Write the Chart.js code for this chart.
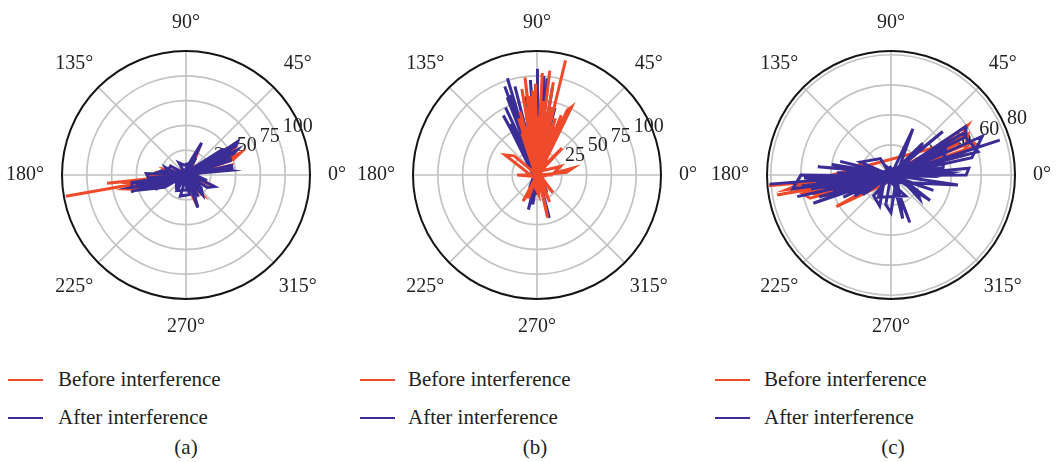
<!DOCTYPE html>
<html>
<head>
<meta charset="utf-8">
<script src="https://cdn.jsdelivr.net/npm/chart.js@4.4.1/dist/chart.umd.min.js"></script>
<style>
  html, body { margin: 0; padding: 0; background: #fff; }
  #wrap { position: relative; width: 1056px; height: 462px; overflow: hidden;
          font-family: 'Liberation Serif', 'Times New Roman', serif; color: #231f20; }
  .panel { position: absolute; top: 0; width: 376px; height: 350px; }
  .key { position: absolute; font-size: 21px; line-height: 24px; white-space: nowrap; }
  .swatch { position: absolute; height: 2px; width: 35px; }
  .cap { position: absolute; top: 435px; font-size: 21px; line-height: 24px; transform: translateX(-50%); }
</style>
</head>
<body>
<div id="wrap">
  <div class="panel" style="left:-2px"><canvas id="polarA" width="376" height="350"></canvas></div>
  <div class="panel" style="left:349px"><canvas id="polarB" width="376" height="350"></canvas></div>
  <div class="panel" style="left:703px"><canvas id="polarC" width="376" height="350"></canvas></div>
  <div id="keys"></div>
</div>
<script>
// Series labels and colours
const seriesNames = ['Before interference', 'After interference'];
const seriesColors = ['#ef4a2b', '#3a2e96'];

// Angular grid (degrees) and radial ticks
const angleTicks = [0, 45, 90, 135, 180, 225, 270, 315];
const radialTicksAB = [25, 50, 75, 100];
const radialTicksC = [20, 40, 60, 80];
const radialMaxAB = 125;
const radialMaxC = 82.5;

// (a) before interference: angle (deg), magnitude
const angleBeforeA = [190, 10, 186, 350, 192, 189, 20, 193, 195, 15, 188, 191, 30, 22, 18, 200, 28, 25, 190, 12, 8, 185, 182, 175, 0, 64, 240, 290, 150, 338, 120, 310, 165, 30, 200, 20, 196, 0];
const radiusBeforeA = [123, 3, 80, 3, 58, 50, 4, 62, 55, 3, 60, 52, 4, 59, 50, 5, 54, 48, 4, 46, 42, 4, 36, 30, 3, 33, 4, 34, 3, 30, 4, 25, 22, 3, 40, 4, 45, 0];
// (a) after interference
const angleAfterA = [197, 20, 33, 30, 200, 193, 188, 15, 26, 24, 195, 195, 190, 10, 22, 18, 200, 184, 178, 0, 12, 9, 190, 8, 6, 170, 176, 170, 350, 28, 35, 180, 64, 244, 60, 230, 160, 165, 340, 150, 205, 30, 210, 200, 20, 290, 110, 300, 120, 338, 330, 150, 320, 310, 130, 280, 255, 60, 240, 270, 80, 345, 25, 31, 25, 200, 75, 100, 120, 300, 220, 230, 0];
const radiusAfterA = [58, 5, 62, 58, 4, 56, 55, 4, 57, 52, 4, 45, 50, 3, 48, 47, 3, 38, 40, 4, 47, 47, 3, 40, 45, 3, 30, 25, 4, 50, 45, 4, 36, 4, 20, 3, 22, 20, 4, 18, 30, 3, 25, 42, 3, 35, 3, 25, 4, 31, 25, 3, 20, 26, 3, 20, 22, 3, 18, 15, 4, 22, 3, 40, 38, 3, 12, 10, 14, 3, 12, 15, 0];

// (b) before interference
const angleBeforeB = [76, 265, 83, 270, 87, 260, 97, 275, 100, 280, 93, 265, 80, 270, 91, 250, 95, 290, 85, 260, 78, 280, 72, 270, 63, 65, 250, 68, 285, 105, 300, 108, 280, 102, 290, 110, 270, 88, 260, 99, 275, 70, 82, 265, 11, 5, 190, 47, 230, 148, 140, 320, 180, 0, 242, 60, 284, 90, 312, 120, 260, 275, 80, 250, 70, 295, 100, 20, 0, 180, 0];
const radiusBeforeB = [119, 5, 106, 4, 103, 5, 99, 4, 88, 5, 85, 4, 95, 5, 92, 4, 80, 4, 75, 6, 70, 4, 60, 3, 77, 72, 4, 65, 5, 66, 4, 60, 3, 50, 5, 45, 4, 60, 3, 65, 5, 50, 55, 3, 37, 30, 3, 37, 4, 38, 30, 3, 20, 4, 30, 3, 44, 4, 24, 3, 12, 20, 3, 25, 4, 30, 3, 25, 15, 3, 0];
// (b) after interference
const angleAfterB = [107, 280, 89.5, 270, 80, 265, 86, 275, 94, 285, 104, 290, 111, 295, 115, 300, 119.5, 280, 98, 270, 84, 260, 75, 255, 120, 300, 110, 290, 100, 280, 92, 270, 256, 75, 262, 80, 286, 100, 270, 90, 300, 110, 240, 60, 117, 290, 108, 0];
const radiusAfterB = [102, 4, 107, 4, 90, 5, 100, 4, 96, 4, 92, 5, 84, 4, 75, 5, 69, 4, 80, 3, 98, 4, 70, 5, 50, 4, 95, 3, 60, 5, 70, 4, 36, 4, 30, 3, 45, 4, 20, 4, 20, 4, 15, 3, 58, 4, 85, 0];

// (c) before interference
const angleBeforeC = [185, 10, 190, 20, 33, 30, 200, 196, 192, 15, 19, 22, 195, 188, 182, 25, 25, 180, 158, 200, 350, 210, 28, 186, 10, 194, 198, 30, 15, 28, 200, 189, 0];
const radiusBeforeC = [81.5, 4, 77, 5, 61, 55, 6, 56, 60, 4, 61, 58, 5, 70, 50, 6, 50, 4, 22, 30, 6, 42, 45, 65, 4, 52, 45, 5, 50, 58, 4, 60, 0];
// (c) after interference
const angleAfterC = [184.3, 10, 17.8, 200, 193, 10, 173.5, 20, 33, 27, 190, 5, 0, 185, 187, 5, 178, 10, 64.6, 245, 351.5, 170, 340, 160, 157, 123, 300, 291.6, 110, 327, 150, 240, 305, 200, 195, 15, 205, 20, 190, 0, 175, 0, 45, 220, 23, 12, 195, 200, 215, 30, 285, 100, 210, 40, 40, 210, 30, 15, 190, 182, 5, 197, 10, 185, 0, 170, 350, 165, 0, 200, 20, 25, 8, 190, 180, 188, 5, 192, 15, 198, 20, 186, 5, 270, 260, 80, 320, 330, 150, 250, 230, 40, 2, 358, 180, 0];
const radiusAfterC = [81, 5, 76, 6, 64, 4, 49, 4, 59, 56, 5, 52, 50, 4, 60, 4, 36, 4, 34, 5, 45, 4, 30, 5, 22, 13, 4, 34, 5, 31, 4, 17, 17, 4, 40, 4, 35, 4, 54, 4, 30, 4, 30, 4, 66, 55, 5, 25, 22, 4, 30, 5, 28, 5, 45, 4, 55, 60, 5, 58, 4, 50, 4, 45, 4, 40, 5, 35, 4, 55, 5, 40, 35, 4, 60, 66, 4, 45, 4, 38, 4, 50, 4, 25, 20, 4, 25, 20, 4, 22, 18, 4, 40, 30, 4, 0];

// polar (deg, magnitude) -> cartesian data points for a linear x/y scatter
function toXY(angles, radii) {
  return angles.map((a, i) => {
    const t = a * Math.PI / 180;
    return { x: radii[i] * Math.cos(t), y: radii[i] * Math.sin(t) };
  });
}

// Draws rings, spokes, outer circle and the angle / magnitude labels
const polarGrid = {
  id: 'polarGrid',
  beforeDatasetsDraw(chart, args, opts) {
    const { ctx, scales: { x, y } } = chart;
    const cx = x.getPixelForValue(0), cy = y.getPixelForValue(0);
    const px = v => x.getPixelForValue(v) - cx;
    const R = px(opts.rMax);
    ctx.save();
    ctx.strokeStyle = '#c3c3c3';
    ctx.lineWidth = 1.7;
    opts.ticks.forEach(t => {
      ctx.beginPath(); ctx.arc(cx, cy, px(t), 0, Math.PI * 2); ctx.stroke();
    });
    angleTicks.forEach(a => {
      const t = a * Math.PI / 180;
      ctx.beginPath(); ctx.moveTo(cx, cy);
      ctx.lineTo(cx + R * Math.cos(t), cy - R * Math.sin(t)); ctx.stroke();
    });
    ctx.strokeStyle = '#151515';
    ctx.lineWidth = 2;
    ctx.beginPath(); ctx.arc(cx, cy, R, 0, Math.PI * 2); ctx.stroke();

    ctx.fillStyle = '#231f20';
    ctx.font = "20px 'Liberation Serif'";
    ctx.textBaseline = 'middle';
    ctx.textAlign = 'center';
    angleTicks.forEach(a => {
      const t = a * Math.PI / 180;
      const label = a + '°';
      let d;
      if (a === 0 || a === 180) d = R + 18 + ctx.measureText(label).width / 2;
      else if (a === 90 || a === 270) d = R + 28;
      else d = R + 34;
      ctx.fillText(label, cx + d * Math.cos(t), cy - d * Math.sin(t));
    });

    ctx.textAlign = 'left';
    ctx.textBaseline = 'alphabetic';
    const tr = 22.5 * Math.PI / 180;
    opts.ticks.forEach(v => {
      const r = px(v);
      ctx.fillText(String(v), cx + r * Math.cos(tr) + 5, cy - r * Math.sin(tr) - 5);
    });
    ctx.restore();
  }
};

function makePolar(id, before, after, ticks, rMax, beforeOnTop) {
  const halfW = 188, halfH = 175, outerPx = 124;
  const unit = rMax / outerPx;
  new Chart(document.getElementById(id), {
    type: 'scatter',
    data: {
      datasets: [
        { label: seriesNames[0], data: before, showLine: true, pointRadius: 0,
          borderColor: seriesColors[0], borderWidth: 3, tension: 0,
          order: beforeOnTop ? 0 : 1 },
        { label: seriesNames[1], data: after, showLine: true, pointRadius: 0,
          borderColor: seriesColors[1], borderWidth: 3, tension: 0,
          order: beforeOnTop ? 1 : 0 }
      ]
    },
    options: {
      responsive: false,
      animation: false,
      devicePixelRatio: 1,
      layout: { padding: 0 },
      scales: {
        x: { type: 'linear', display: false, min: -halfW * unit, max: halfW * unit },
        y: { type: 'linear', display: false, min: -halfH * unit, max: halfH * unit }
      },
      plugins: {
        legend: { display: false },
        tooltip: { enabled: false },
        polarGrid: { ticks: ticks, rMax: rMax }
      }
    },
    plugins: [polarGrid]
  });
}

makePolar('polarA', toXY(angleBeforeA, radiusBeforeA), toXY(angleAfterA, radiusAfterA), radialTicksAB, radialMaxAB, false);
makePolar('polarB', toXY(angleBeforeB, radiusBeforeB), toXY(angleAfterB, radiusAfterB), radialTicksAB, radialMaxAB, true);
makePolar('polarC', toXY(angleBeforeC, radiusBeforeC), toXY(angleAfterC, radiusAfterC), radialTicksC, radialMaxC, false);

// Legends and panel captions
const keyLayout = [
  { line: 8, text: 58, cap: 186, tag: '(a)' },
  { line: 360, text: 408, cap: 535, tag: '(b)' },
  { line: 715, text: 764, cap: 893, tag: '(c)' }
];
const keys = document.getElementById('keys');
keyLayout.forEach(k => {
  seriesNames.forEach((name, i) => {
    const yMid = i === 0 ? 380 : 418;
    const sw = document.createElement('div');
    sw.className = 'swatch';
    sw.style.left = k.line + 'px';
    sw.style.top = (yMid - 1) + 'px';
    sw.style.background = seriesColors[i];
    keys.appendChild(sw);
    const tx = document.createElement('div');
    tx.className = 'key';
    tx.style.left = k.text + 'px';
    tx.style.top = (yMid - 13) + 'px';
    tx.textContent = name;
    keys.appendChild(tx);
  });
  const cap = document.createElement('div');
  cap.className = 'cap';
  cap.style.left = k.cap + 'px';
  cap.textContent = k.tag;
  keys.appendChild(cap);
});
</script>
</body>
</html>
